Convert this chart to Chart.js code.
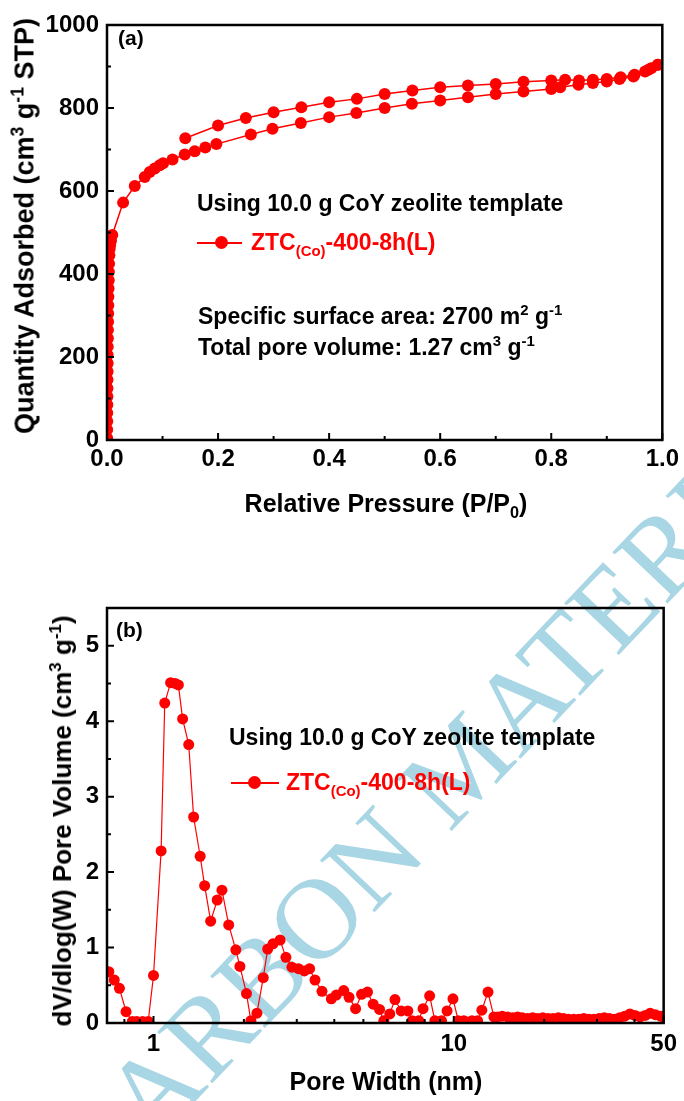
<!DOCTYPE html>
<html>
<head>
<meta charset="utf-8">
<script src="https://cdn.jsdelivr.net/npm/chart.js@4.4.0/dist/chart.umd.min.js"></script>
<style>
  body { margin: 0; background: #fff; }
  #page { position: relative; width: 684px; height: 1101px; overflow: hidden; background: #fff;
          font-family: "Liberation Sans", Arial, sans-serif; font-weight: bold; color: #000; }
  canvas { position: absolute; left: 0; z-index: 1; }
  .txt { position: absolute; white-space: nowrap; line-height: 1; z-index: 2; }
  .red { color: #ff0000; }
  sup, sub { font-size: 0.65em; line-height: 0; }
  .ytitle { transform: translate(-50%, -50%) rotate(-90deg); font-size: 26px; }
  .xtitle { transform: translate(-50%, -50%); font-size: 25px; }
  .lline { position: absolute; height: 1.5px; background: #ff0000; z-index: 2; }
  .ldot { position: absolute; width: 13px; height: 13px; border-radius: 50%; background: #ff0000; z-index: 2; }
  #wm { position: absolute; left: 30px; top: 1136px; transform-origin: 0 0; transform: rotate(-46.5deg);
        font: 115px "Liberation Serif", "Times New Roman", serif; color: #a8d6e4; white-space: nowrap;
        line-height: 1; z-index: 0; }
</style>
</head>
<body>
<div id="page">
  <div id="wm">CARBON MATERIALS</div>

  <canvas id="isotherm" width="684" height="560" style="top:0"></canvas>
  <canvas id="psd" width="684" height="541" style="top:560px"></canvas>

  <!-- (a) annotations -->
  <div class="txt" style="left:118px; top:27px; font-size:21px">(a)</div>
  <div class="txt" style="left:197px; top:192px; font-size:23px">Using 10.0 g CoY zeolite template</div>
  <div class="lline" style="left:197px; top:242px; width:45px"></div>
  <div class="ldot" style="left:215px; top:236px"></div>
  <div class="txt red" style="left:251px; top:231px; font-size:23px">ZTC<sub>(Co)</sub>-400-8h(L)</div>
  <div class="txt" style="left:198px; top:305px; font-size:23px">Specific surface area: 2700 m<sup>2</sup> g<sup>-1</sup></div>
  <div class="txt" style="left:198px; top:336px; font-size:23px">Total pore volume: 1.27 cm<sup>3</sup> g<sup>-1</sup></div>
  <div class="txt ytitle" style="left:25px; top:226px; font-size:27px">Quantity Adsorbed (cm<sup>3</sup> g<sup>-1</sup> STP)</div>
  <div class="txt xtitle" style="left:386px; top:503px">Relative Pressure (P/P<sub>0</sub>)</div>

  <!-- (b) annotations -->
  <div class="txt" style="left:116px; top:619px; font-size:21px">(b)</div>
  <div class="txt" style="left:229px; top:726px; font-size:23px">Using 10.0 g CoY zeolite template</div>
  <div class="lline" style="left:231px; top:782px; width:48px"></div>
  <div class="ldot" style="left:248px; top:776px"></div>
  <div class="txt red" style="left:286px; top:771px; font-size:23px">ZTC<sub>(Co)</sub>-400-8h(L)</div>
  <div class="txt ytitle" style="left:62px; top:821px">dV/dlog(W) Pore Volume (cm<sup>3</sup> g<sup>-1</sup>)</div>
  <div class="txt xtitle" style="left:386px; top:1081px">Pore Width (nm)</div>
</div>

<script>
// ── Data: N2 isotherm (a) ────────────────────────────────────
const adsP = [0.0002, 0.0003, 0.0004, 0.0005, 0.0006, 0.0007, 0.0008, 0.0009, 0.001, 0.0011,
              0.0012, 0.0013, 0.0015, 0.0017, 0.0019, 0.0021, 0.0023, 0.0025, 0.0028, 0.0031,
              0.0034, 0.0037, 0.0042, 0.0048, 0.0058, 0.0072, 0.0095,
              0.029, 0.05, 0.068, 0.077, 0.086, 0.095, 0.101, 0.118, 0.14, 0.158, 0.177, 0.197,
              0.259, 0.298, 0.349, 0.4, 0.449, 0.5, 0.549, 0.6, 0.65, 0.7, 0.75, 0.8, 0.816,
              0.849, 0.875, 0.9, 0.923, 0.948, 0.969, 0.98, 0.992];
const adsQ = [5, 25, 45, 65, 85, 105, 125, 145, 165, 185,
              205, 225, 245, 265, 285, 305, 325, 345, 365, 385,
              405, 425, 445, 460, 470, 480, 494,
              572, 612, 634, 646, 654, 662, 667, 676, 688, 696, 705, 713,
              736, 750, 764, 778, 788, 800, 810, 818, 826, 834, 840, 846, 850,
              856, 860, 864, 870, 876, 888, 896, 904];
const desP = [0.992, 0.975, 0.95, 0.925, 0.9, 0.875, 0.85, 0.825, 0.8, 0.75, 0.7, 0.65, 0.6,
              0.55, 0.5, 0.45, 0.4, 0.35, 0.3, 0.25, 0.2, 0.141];
const desQ = [904, 892, 880, 874, 870, 868, 866, 868, 866, 863, 858, 854, 850,
              842, 834, 822, 814, 802, 790, 776, 758, 727];

const isoXTicks = [0, 0.2, 0.4, 0.6, 0.8, 1.0];
const isoXMinor = [0.1, 0.3, 0.5, 0.7, 0.9];
const isoYTicks = [0, 200, 400, 600, 800, 1000];
const isoYMinor = [100, 300, 500, 700, 900];

// ── Data: pore size distribution (b) ─────────────────────────
const poreW = [0.71, 0.74, 0.77, 0.81, 0.85, 0.88, 0.92, 0.96, 1.0, 1.06, 1.09, 1.14, 1.18, 1.21,
               1.25, 1.31, 1.36, 1.43, 1.48, 1.55, 1.63, 1.69, 1.78, 1.88, 1.94, 2.04, 2.11, 2.21,
               2.32, 2.40, 2.50, 2.64, 2.76, 2.89, 3.04, 3.18, 3.31, 3.45, 3.64, 3.91, 4.06, 4.30,
               4.48, 4.71, 4.93, 5.16, 5.39, 5.66, 5.85, 6.12, 6.37, 6.68, 7.03, 7.27, 7.64, 7.90,
               8.31, 8.65, 9.10, 9.50, 9.94, 10.35, 10.8, 11.5, 12.0, 12.4, 13.0, 13.6,
               14.0, 14.5, 15.1, 15.7, 16.3, 16.9, 17.6, 18.3, 19.0, 19.8, 20.6, 21.4, 22.3, 23.2,
               24.1, 25.1, 26.1, 27.1, 28.2, 29.3, 30.5, 31.7, 33.0, 34.3, 35.7, 37.1, 38.6, 40.1,
               41.7, 43.4, 45.1, 46.9, 48.8, 50.0];
const poreDV = [0.68, 0.57, 0.46, 0.15, 0.02, 0.02, 0.02, 0.02, 0.63, 2.28, 4.24, 4.51, 4.50, 4.48,
                4.03, 3.69, 2.73, 2.21, 1.82, 1.35, 1.63, 1.76, 1.30, 0.97, 0.75, 0.39, 0.03, 0.13,
                0.60, 0.98, 1.05, 1.10, 0.87, 0.74, 0.72, 0.69, 0.72, 0.57, 0.42, 0.32, 0.37, 0.43,
                0.34, 0.19, 0.38, 0.41, 0.25, 0.18, 0.03, 0.12, 0.31, 0.16, 0.16, 0.03, 0.03, 0.19,
                0.36, 0.03, 0.03, 0.16, 0.32, 0.03, 0.03, 0.03, 0.03, 0.17, 0.41, 0.08,
                0.08, 0.09, 0.08, 0.07, 0.08, 0.07, 0.06, 0.07, 0.06, 0.07, 0.06, 0.06, 0.07, 0.06,
                0.05, 0.05, 0.05, 0.06, 0.05, 0.05, 0.06, 0.07, 0.06, 0.05, 0.07, 0.09, 0.12, 0.10,
                0.08, 0.10, 0.13, 0.11, 0.09, 0.08];

const psdXTicks = [1, 10, 50];
const psdXMinor = [0.8, 0.9, 2, 3, 4, 5, 6, 7, 8, 9, 20, 30, 40];
const psdYTicks = [0, 1, 2, 3, 4, 5];
const psdYMinor = [0.5, 1.5, 2.5, 3.5, 4.5];

// ── Shared styling ───────────────────────────────────────────
const RED = '#ff0000';
const FONT = '"Liberation Sans", Arial, sans-serif';
const zip = (xs, ys) => xs.map((x, i) => ({ x, y: ys[i] }));

// frame round the plot plus inward ticks on bottom and left axes
const frameTicks = {
    id: 'frameTicks',
    afterDatasetsDraw(chart, args, opts) {
        const { ctx, chartArea: a, scales: { x, y } } = chart;
        ctx.save();
        ctx.strokeStyle = '#000';
        ctx.lineWidth = 2;
        ctx.beginPath();
        opts.xMajor.forEach(v => { const p = x.getPixelForValue(v); ctx.moveTo(p, a.bottom); ctx.lineTo(p, a.bottom - 7); });
        opts.xMinor.forEach(v => { const p = x.getPixelForValue(v); ctx.moveTo(p, a.bottom); ctx.lineTo(p, a.bottom - 4); });
        opts.yMajor.forEach(v => { const p = y.getPixelForValue(v); ctx.moveTo(a.left, p); ctx.lineTo(a.left + 7, p); });
        opts.yMinor.forEach(v => { const p = y.getPixelForValue(v); ctx.moveTo(a.left, p); ctx.lineTo(a.left + 4, p); });
        ctx.stroke();
        ctx.lineWidth = 2.5;
        ctx.strokeRect(a.left, a.top, a.right - a.left, a.bottom - a.top);
        ctx.restore();
    }
};

function axis(extra, tickValues, size, pad, fmt) {
    return Object.assign({
        grid: { display: false, drawTicks: false },
        border: { display: false },
        ticks: { color: '#000', padding: pad, font: { family: FONT, size: 24, weight: 'bold' }, callback: fmt },
        afterBuildTicks: s => { s.ticks = tickValues.map(v => ({ value: v })); },
        afterFit: s => { if (s.isHorizontal()) s.height = size; else s.width = size; },
    }, extra);
}

function series(points, radius, width) {
    return {
        data: points, borderColor: RED, backgroundColor: RED, borderWidth: width,
        pointRadius: radius, pointHoverRadius: radius, pointBorderWidth: 0,
        tension: 0, clip: 0,
    };
}

const common = {
    responsive: false,
    animation: false,
    devicePixelRatio: 1,
    events: [],
};

// ── (a) isotherm ─────────────────────────────────────────────
new Chart(document.getElementById('isotherm'), {
    type: 'line',
    data: { datasets: [series(zip(adsP, adsQ), 6, 1.5), series(zip(desP, desQ), 6, 1.5)] },
    options: {
        ...common,
        layout: { padding: { top: 25, right: 19, left: 0, bottom: 0 } },
        plugins: {
            legend: { display: false }, tooltip: { enabled: false },
            frameTicks: { xMajor: isoXTicks, xMinor: isoXMinor, yMajor: isoYTicks, yMinor: isoYMinor },
        },
        scales: {
            x: axis({ type: 'linear', min: 0, max: 1 }, isoXTicks, 120, 5, v => v.toFixed(1)),
            y: axis({ type: 'linear', min: 0, max: 1000 }, isoYTicks, 107, 8, v => String(v)),
        },
    },
    plugins: [frameTicks],
});

// ── (b) pore size distribution ───────────────────────────────
new Chart(document.getElementById('psd'), {
    type: 'line',
    data: { datasets: [series(zip(poreW, poreDV), 5.5, 1.2)] },
    options: {
        ...common,
        layout: { padding: { top: 48, right: 19, left: 0, bottom: 0 } },
        plugins: {
            legend: { display: false }, tooltip: { enabled: false },
            frameTicks: { xMajor: psdXTicks, xMinor: psdXMinor, yMajor: psdYTicks, yMinor: psdYMinor },
        },
        scales: {
            x: axis({ type: 'logarithmic', min: 0.7, max: 50 }, psdXTicks, 78, 7, v => String(v)),
            y: axis({ type: 'linear', min: 0, max: 5.5 }, psdYTicks, 107, 8, v => String(v)),
        },
    },
    plugins: [frameTicks],
});
</script>
</body>
</html>
